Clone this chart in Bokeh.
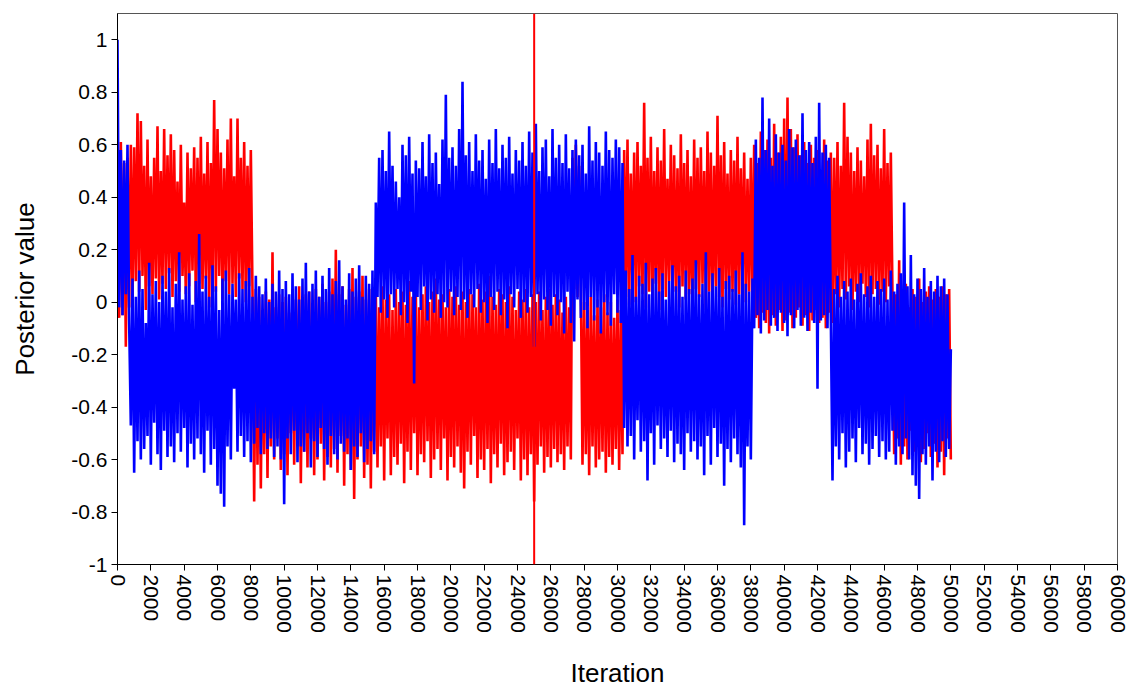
import numpy as np
from bokeh.plotting import figure
from bokeh.models import Range1d, FixedTicker, CustomJSTickFormatter, Span, ColumnDataSource
from bokeh.embed import file_html
from bokeh.resources import INLINE

# ---------------- data (posterior traces, one value per 100 iterations) ----------------
step = 100
burn_in = 25000
x_ticks = list(range(0, 60001, 2000))
y_ticks = [-1, -0.8, -0.6, -0.4, -0.2, 0, 0.2, 0.4, 0.6, 0.8, 1]

red_0_10k = [
    0.25, -0.06, 0.61, -0.05, 0.53, -0.17, 0.55, -0.02, 0.60, 0.02,
    0.59, 0.08, 0.72, 0.04, 0.69, 0.10, 0.52, -0.03, 0.62, 0.06,
    0.48, 0.03, 0.55, 0.09, 0.67, 0.01, 0.50, 0.07, 0.66, 0.05,
    0.56, 0.11, 0.64, 0.02, 0.58, 0.08, 0.46, 0.04, 0.60, 0.10,
    0.38, 0.03, 0.57, 0.06, 0.51, 0.12, 0.59, 0.00, 0.55, 0.07,
    0.63, 0.05, 0.49, 0.09, 0.61, -0.02, 0.53, 0.06, 0.77, 0.04,
    0.66, 0.10, 0.57, 0.01, 0.51, 0.08, 0.62, 0.03, 0.70, 0.07,
    0.48, 0.02, 0.70, 0.09, 0.55, 0.05, 0.61, 0.00, 0.52, 0.06,
    0.58, 0.04, -0.76, 0.05, -0.62, 0.02, -0.71, -0.03, -0.58, 0.04,
    -0.67, 0.01, -0.55, 0.19, -0.60, -0.02, -0.52, 0.03, -0.64, 0.00,
]
red_10k_20k = [
    -0.58, 0.02, -0.66, -0.04, -0.50, 0.05, -0.62, 0.01, -0.55, 0.06,
    -0.69, -0.02, -0.57, 0.03, -0.63, 0.04, -0.52, -0.01, -0.66, 0.05,
    -0.60, 0.02, -0.54, 0.07, -0.68, 0.00, -0.59, 0.04, -0.63, 0.09,
    -0.56, 0.20, -0.65, 0.03, -0.51, 0.06, -0.70, -0.01, -0.58, 0.05,
    -0.64, 0.13, -0.75, 0.02, -0.60, 0.04, -0.55, 0.10, -0.67, 0.01,
    -0.62, 0.05, -0.71, 0.03, -0.57, 0.04, -0.63, -0.02, -0.55, 0.06,
    -0.68, 0.01, -0.52, 0.03, -0.66, -0.03, -0.59, 0.05, -0.62, 0.00,
    -0.54, 0.04, -0.69, -0.01, -0.57, 0.08, -0.64, 0.02, -0.50, 0.05,
    -0.66, -0.02, -0.58, 0.03, -0.61, 0.06, -0.53, 0.00, -0.67, 0.04,
    -0.60, 0.09, -0.56, 0.01, -0.64, 0.03, -0.52, -0.02, -0.68, 0.05,
]
red_20k_30k = [
    -0.59, 0.02, -0.63, 0.06, -0.55, -0.01, -0.65, 0.04, -0.71, 0.00,
    -0.57, 0.05, -0.62, 0.03, -0.51, -0.02, -0.67, 0.07, -0.60, 0.01,
    -0.64, 0.04, -0.56, 0.10, -0.69, 0.02, -0.58, -0.01, -0.63, 0.05,
    -0.54, 0.03, -0.66, 0.00, -0.61, 0.06, -0.57, 0.02, -0.64, -0.03,
    -0.52, 0.04, -0.68, 0.01, -0.60, 0.05, -0.66, -0.02, -0.58, 0.03,
    -0.76, 0.00, -0.62, 0.04, -0.55, -0.03, -0.65, 0.02, -0.59, 0.05,
    -0.63, -0.01, -0.56, 0.03, -0.61, 0.01, -0.58, -0.04, -0.64, 0.02,
    -0.55, -0.02, -0.60, 0.55, 0.05, 0.60, 0.02, 0.52, 0.08, -0.62,
    0.00, -0.58, -0.03, -0.66, 0.02, -0.55, -0.05, -0.63, 0.01, -0.60,
    -0.02, -0.57, 0.03, -0.65, -0.04, -0.59, 0.00, -0.62, -0.06, -0.56,
]
red_30k_40k = [
    0.01, -0.64, -0.03, -0.58, 0.58, 0.02, 0.62, -0.01, 0.49, 0.05,
    0.57, 0.00, 0.61, 0.06, 0.52, 0.03, 0.76, -0.02, 0.55, 0.04,
    0.63, 0.01, 0.50, 0.07, 0.59, -0.03, 0.54, 0.05, 0.66, 0.02,
    0.47, 0.08, 0.60, 0.00, 0.56, 0.04, 0.51, -0.02, 0.64, 0.06,
    0.53, 0.01, 0.58, 0.03, 0.48, -0.01, 0.62, 0.05, 0.55, 0.02,
    0.59, 0.07, 0.50, -0.03, 0.65, 0.04, 0.57, 0.00, 0.52, 0.06,
    0.71, 0.02, 0.56, -0.02, 0.61, 0.05, 0.49, 0.01, 0.58, 0.04,
    0.54, -0.01, 0.63, 0.03, 0.51, 0.06, 0.57, 0.00, 0.47, 0.04,
    0.55, 0.02, 0.60, -0.06, 0.53, -0.10, 0.65, -0.04, 0.58, -0.08,
    0.62, -0.12, 0.55, -0.05, 0.68, -0.09, 0.57, -0.03, 0.63, -0.11,
]
red_40k_50k = [
    0.70, -0.07, 0.78, -0.04, 0.66, -0.10, 0.59, -0.06, 0.64, -0.02,
    0.56, -0.09, 0.61, -0.05, 0.53, -0.11, 0.60, -0.07, 0.55, -0.03,
    0.58, -0.08, 0.50, -0.06, 0.62, -0.10, 0.54, -0.04, 0.57, -0.08,
    0.55, 0.03, 0.61, -0.02, 0.52, 0.05, 0.76, 0.01, 0.63, 0.06,
    0.57, -0.03, 0.50, 0.04, 0.59, 0.00, 0.54, 0.07, 0.48, 0.02,
    0.62, -0.02, 0.68, 0.03, 0.56, 0.05, 0.60, -0.01, 0.51, 0.04,
    0.66, 0.00, 0.53, 0.06, 0.57, 0.02, -0.58, 0.03, -0.52, 0.16,
    -0.62, 0.01, -0.55, 0.07, -0.60, -0.02, -0.49, 0.05, -0.57, 0.02,
    -0.53, 0.09, -0.61, 0.00, -0.56, 0.04, -0.50, 0.06, -0.59, 0.01,
    -0.54, 0.05, -0.63, 0.02, -0.57, 0.06, -0.66, 0.03, -0.52, 0.05,
    -0.60,
]

blue_0_10k = [
    1.00, -0.02, 0.58, -0.05, 0.54, 0.03, 0.60, -0.08, -0.47, 0.09,
    -0.65, 0.02, -0.53, 0.12, -0.60, 0.05, -0.56, -0.08, -0.51, 0.15,
    -0.62, 0.03, -0.46, 0.08, -0.58, 0.00, -0.64, 0.10, -0.49, 0.04,
    -0.59, 0.13, -0.55, -0.02, -0.61, 0.07, -0.50, 0.19, -0.57, 0.01,
    -0.48, 0.06, -0.63, 0.11, -0.54, -0.01, -0.60, 0.08, -0.52, 0.26,
    -0.58, 0.04, -0.65, 0.10, -0.49, 0.02, -0.62, 0.14, -0.56, 0.06,
    -0.70, -0.03, -0.73, 0.09, -0.78, 0.12, -0.55, 0.03, -0.60, 0.07,
    -0.33, 0.01, -0.57, 0.11, -0.51, 0.05, -0.59, 0.08, -0.53, 0.13,
    -0.61, 0.02, -0.54, 0.10, -0.48, 0.06, -0.58, 0.03, -0.50, 0.09,
    -0.56, 0.00, -0.52, 0.07, -0.59, 0.04, -0.55, 0.12, -0.60, 0.05,
]
blue_10k_20k = [
    -0.77, 0.08, -0.52, 0.03, -0.58, 0.11, -0.49, 0.06, -0.61, 0.01,
    -0.55, 0.09, -0.57, 0.15, -0.50, 0.04, -0.63, 0.07, -0.53, 0.12,
    -0.59, 0.02, -0.48, 0.10, -0.56, 0.05, -0.62, 0.13, -0.51, 0.03,
    -0.58, 0.08, -0.60, 0.16, -0.54, 0.06, -0.57, 0.01, -0.52, 0.11,
    -0.64, 0.04, -0.55, 0.09, -0.59, 0.14, -0.50, 0.02, -0.61, 0.10,
    -0.56, 0.07, -0.53, 0.12, -0.58, 0.38, 0.02, 0.55, -0.04, 0.58,
    0.01, 0.50, -0.06, 0.65, 0.03, 0.52, -0.02, 0.46, 0.05, 0.40,
    -0.05, 0.60, 0.00, 0.56, -0.08, 0.63, 0.04, 0.49, -0.31, 0.54,
    0.02, 0.51, -0.03, 0.61, 0.06, 0.48, -0.07, 0.64, 0.01, 0.53,
    -0.04, 0.57, 0.03, 0.45, -0.06, 0.62, 0.00, 0.79, -0.02, 0.55,
]
blue_20k_30k = [
    0.04, 0.59, -0.05, 0.52, 0.02, 0.66, -0.03, 0.84, 0.01, 0.56,
    -0.06, 0.61, 0.03, 0.50, -0.02, 0.64, 0.05, 0.54, -0.04, 0.58,
    0.00, 0.47, -0.08, 0.62, 0.02, 0.53, -0.03, 0.66, 0.04, 0.51,
    -0.05, 0.60, 0.01, 0.55, -0.10, 0.63, 0.03, 0.49, -0.02, 0.58,
    0.05, 0.54, -0.06, 0.61, 0.00, 0.52, -0.04, 0.65, 0.02, 0.57,
    -0.17, 0.68, 0.03, 0.50, -0.07, 0.59, 0.01, 0.62, -0.03, 0.48,
    -0.09, 0.66, 0.02, 0.55, -0.05, 0.60, 0.00, 0.53, -0.12, 0.64,
    0.04, 0.51, -0.08, 0.58, -0.15, 0.62, 0.01, 0.56, -0.06, 0.60,
    -0.03, 0.49, -0.10, 0.67, 0.02, 0.54, -0.07, 0.61, -0.02, 0.57,
    -0.12, 0.52, 0.00, 0.65, -0.05, 0.58, -0.09, 0.55, 0.03, 0.62,
]
blue_30k_40k = [
    -0.04, 0.59, -0.08, 0.53, -0.48, 0.12, -0.55, 0.05, -0.51, 0.18,
    -0.60, 0.02, -0.45, 0.10, -0.57, 0.07, -0.53, 0.15, -0.68, 0.03,
    -0.50, 0.09, -0.62, 0.13, -0.47, 0.04, -0.56, 0.11, -0.52, 0.01,
    -0.59, 0.08, -0.49, 0.14, -0.61, 0.06, -0.54, 0.10, -0.58, 0.02,
    -0.64, 0.12, -0.50, 0.05, -0.57, 0.09, -0.53, 0.16, -0.60, 0.03,
    -0.55, 0.07, -0.66, 0.19, -0.51, 0.04, -0.62, 0.11, -0.48, 0.06,
    -0.59, 0.13, -0.54, 0.02, -0.70, 0.08, -0.56, 0.10, -0.61, 0.05,
    -0.52, 0.12, -0.58, 0.03, -0.63, 0.19, -0.85, 0.07, -0.55, 0.04,
    -0.60, 0.09, -0.10, 0.62, -0.05, 0.55, -0.12, 0.78, -0.07, 0.58,
    -0.03, 0.70, -0.09, 0.52, -0.06, 0.64, -0.11, 0.57, -0.04, 0.60,
]
blue_40k_50k = [
    -0.08, 0.54, -0.13, 0.66, -0.05, 0.59, -0.10, 0.62, -0.03, 0.56,
    -0.09, 0.72, -0.06, 0.58, -0.11, 0.61, -0.04, 0.53, -0.08, 0.63,
    -0.33, 0.76, -0.07, 0.57, -0.05, 0.60, -0.10, 0.55, -0.06, -0.68,
    0.05, -0.55, 0.10, -0.60, 0.02, -0.50, 0.08, -0.63, 0.04, -0.57,
    0.09, -0.52, 0.01, -0.61, 0.07, -0.48, 0.11, -0.58, 0.03, -0.54,
    0.06, -0.62, 0.10, -0.56, 0.02, -0.51, 0.08, -0.59, 0.05, -0.53,
    0.09, -0.60, 0.01, -0.57, 0.12, -0.49, 0.04, -0.62, 0.07, -0.55,
    0.11, -0.58, 0.38, -0.52, 0.06, -0.60, 0.18, -0.66, 0.03, -0.70,
    0.09, -0.75, 0.05, -0.58, 0.13, -0.62, 0.02, -0.55, 0.08, -0.68,
    0.04, -0.57, 0.10, -0.61, 0.06, -0.53, 0.09, -0.59, 0.03, -0.56,
    -0.18,
]

red_values = red_0_10k + red_10k_20k + red_20k_30k + red_30k_40k + red_40k_50k
blue_values = blue_0_10k + blue_10k_20k + blue_20k_30k + blue_30k_40k + blue_40k_50k
red_iter = [i * step for i in range(len(red_values))]
blue_iter = [i * step for i in range(len(blue_values))]

# ---------------- figure ----------------
FONT = "Liberation Sans"
p = figure(width=1128, height=690, output_backend="svg", toolbar_location=None,
           x_range=Range1d(0, 60000), y_range=Range1d(-1, 1.1),
           min_border_left=117, min_border_right=11, min_border_top=13, min_border_bottom=124,
           background_fill_color="white", border_fill_color="white")

p.xgrid.visible = False
p.ygrid.visible = False
p.outline_line_color = "#555555"
p.outline_line_width = 1

red_src = ColumnDataSource(dict(x=red_iter, y=red_values))
blue_src = ColumnDataSource(dict(x=blue_iter, y=blue_values))
p.line("x", "y", source=red_src, line_color="#ff0000", line_width=2.6)
p.line("x", "y", source=blue_src, line_color="#0000ff", line_width=2.6)

p.add_layout(Span(location=burn_in, dimension="height", line_color="#ff0000", line_width=2))

p.xaxis.ticker = FixedTicker(ticks=x_ticks)
p.yaxis.ticker = FixedTicker(ticks=y_ticks)
p.yaxis.formatter = CustomJSTickFormatter(code="return (Math.round(tick*10)/10).toString();")
p.xaxis.major_label_orientation = "vertical"

for ax in (p.xaxis[0], p.yaxis[0]):
    ax.axis_line_color = "black"
    ax.axis_line_width = 1
    ax.major_tick_line_color = "black"
    ax.major_tick_out = 6
    ax.major_tick_in = 0
    ax.minor_tick_out = 0
    ax.minor_tick_in = 0
    ax.major_label_text_font = FONT
    ax.major_label_text_font_size = "21px"
    ax.major_label_text_color = "black"
    ax.major_label_standoff = 4
    ax.axis_label_text_font = FONT
    ax.axis_label_text_font_size = "26px"
    ax.axis_label_text_font_style = "normal"
    ax.axis_label_text_color = "black"

p.xaxis.axis_label = "Iteration"
p.yaxis.axis_label = "Posterior value"
p.xaxis.axis_label_standoff = 22
p.yaxis.axis_label_standoff = 28

open("out.html", "w").write(file_html(p, INLINE))
